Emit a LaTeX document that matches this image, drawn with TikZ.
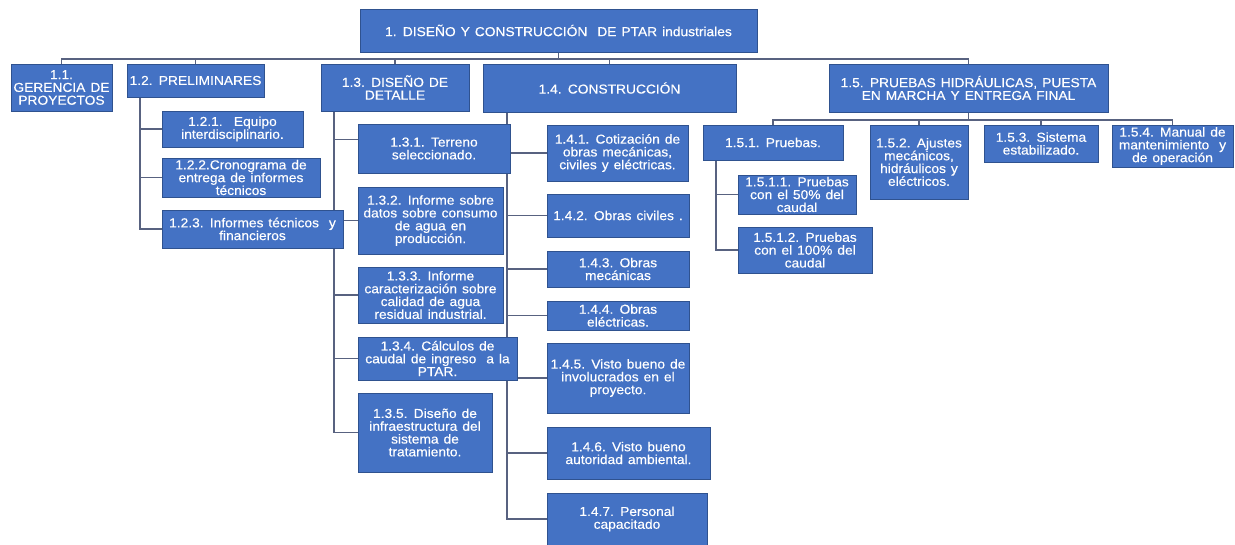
\documentclass[tikz,border=0pt]{standalone}
\usepackage{fontspec}
\setmainfont{Liberation Sans}[FakeStretch=1.06, WordSpace=1.3, FakeBold=0.3]
\usetikzlibrary{backgrounds}

\definecolor{boxblue}{RGB}{68,114,196}
\definecolor{boxedge}{RGB}{47,82,143}
\definecolor{wire}{RGB}{88,98,128}

% \wbsbox{name}{left}{top}{right}{bottom}{text}
\newcommand{\wbsbox}[6]{%
  \node[wbs, minimum width={(#4-#2)*1pt}, minimum height={(#5-#3)*1pt}]
    (#1) at ({(#2+#4)/2},{(#3+#5)/2}) {#6};}

\tikzset{
  wbs/.style={fill=boxblue, draw=boxedge, line width=0.6pt, text=white,
    align=center, inner sep=0pt, font=\fontsize{13}{12.8}\selectfont},
  link/.style={draw=wire, line width=1.7pt},
}

\begin{document}
\begin{tikzpicture}[x=1pt, y=-1pt]
\useasboundingbox (0,0) rectangle (1235,545);

% root
\wbsbox{top}{360}{9}{757}{52}{1. DISEÑO Y CONSTRUCCIÓN~ DE PTAR industriales}

% first level
\wbsbox{n11}{11}{64}{112}{111}{1.1.\\GERENCIA DE\\PROYECTOS}
\wbsbox{n12}{127}{64}{264}{97}{1.2. PRELIMINARES}
\wbsbox{n13}{321}{64}{469}{111}{1.3. DISEÑO DE\\DETALLE}
\wbsbox{n14}{483}{64}{736}{112}{1.4. CONSTRUCCIÓN}
\wbsbox{n15}{829}{64}{1108}{112}{1.5. PRUEBAS HIDRÁULICAS, PUESTA\\EN MARCHA Y ENTREGA FINAL}

% 1.2
\wbsbox{n121}{162}{111}{303}{147}{1.2.1.~ Equipo\\interdisciplinario.}
\wbsbox{n122}{162}{158}{320}{197}{1.2.2.Cronograma de\\entrega de informes\\técnicos}
\wbsbox{n123}{162}{210}{343}{248}{1.2.3. Informes técnicos~ y\\financieros}

% 1.3
\wbsbox{n131}{358}{124}{510}{173}{1.3.1. Terreno\\seleccionado.}
\wbsbox{n132}{358}{187}{503}{254}{1.3.2. Informe sobre\\datos sobre consumo\\de agua en\\producción.}
\wbsbox{n133}{358}{267}{503}{323}{1.3.3. Informe\\caracterización sobre\\calidad de agua\\residual industrial.}
\wbsbox{n134}{358}{337}{517}{380}{1.3.4. Cálculos de\\caudal de ingreso~ a la\\PTAR.}
\wbsbox{n135}{358}{393}{492}{472}{1.3.5. Diseño de\\infraestructura del\\sistema de\\tratamiento.}

% 1.4
\wbsbox{n141}{547}{125}{688}{181}{1.4.1. Cotización de\\obras mecánicas,\\civiles y eléctricas.}
\wbsbox{n142}{547}{194}{689}{237}{1.4.2. Obras civiles .}
\wbsbox{n143}{547}{251}{689}{287}{1.4.3. Obras\\mecánicas}
\wbsbox{n144}{547}{301}{689}{330}{1.4.4. Obras\\eléctricas.}
\wbsbox{n145}{547}{343}{689}{413}{1.4.5. Visto bueno de\\involucrados en el\\proyecto.}
\wbsbox{n146}{547}{427}{710}{479}{1.4.6. Visto bueno\\autoridad ambiental.}
\wbsbox{n147}{547}{493}{707}{545}{1.4.7. Personal\\capacitado}

% 1.5
\wbsbox{n151}{703}{125}{843}{160}{1.5.1. Pruebas.}
\wbsbox{n152}{870}{125}{968}{199}{1.5.2. Ajustes\\mecánicos,\\hidráulicos y\\eléctricos.}
\wbsbox{n153}{984}{125}{1098}{162}{1.5.3. Sistema\\estabilizado.}
\wbsbox{n154}{1112}{125}{1233}{167}{1.5.4. Manual de\\mantenimiento~ y\\de operación}
\wbsbox{n1511}{738}{175}{856}{214}{1.5.1.1. Pruebas\\con el 50\% del\\caudal}
\wbsbox{n1512}{738}{227}{872}{273}{1.5.1.2. Pruebas\\con el 100\% del\\caudal}

\begin{scope}[on background layer]
  \fill[white] (0,0) rectangle (1235,545);
  % root to first level
  \foreach \c in {n11,n12,n13,n14,n15}
    \draw[link] (top.south) -- ++(0,7) -| (\c.north);
  % 1.2 branch
  \foreach \c in {n121,n122,n123}
    \draw[link] ([xshift=13pt]n12.south west) |- (\c.west);
  % 1.3 branch
  \draw[link] ([xshift=13pt]n13.south west) |- ([yshift=9pt]n131.west);
  \foreach \c in {n132,n133,n134,n135}
    \draw[link] ([xshift=13pt]n13.south west) |- (\c.west);
  % 1.4 branch
  \foreach \c in {n141,n142,n143,n144,n145,n146,n147}
    \draw[link] ([xshift=24pt]n14.south west) |- (\c.west);
  % 1.5 branch
  \foreach \c in {n151,n152,n153,n154}
    \draw[link] (n15.south) -- ++(0,8) -| (\c.north);
  \foreach \c in {n1511,n1512}
    \draw[link] ([xshift=13pt]n151.south west) |- (\c.west);
\end{scope}
\end{tikzpicture}
\end{document}
